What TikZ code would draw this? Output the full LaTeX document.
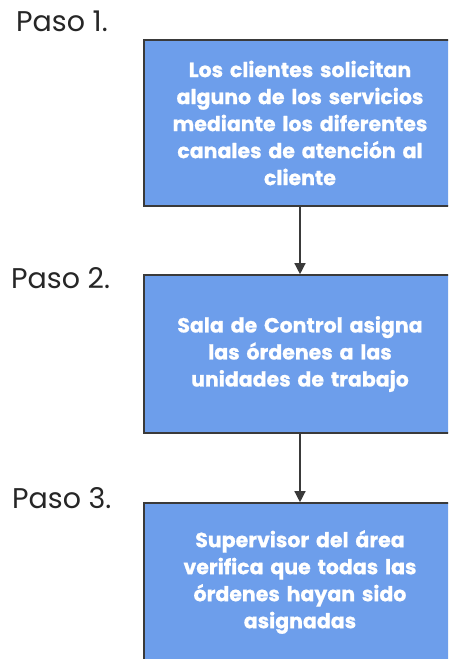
\documentclass[tikz,border=0pt]{standalone}
\usepackage{fontspec}
\setmainfont{Poppins}
\newfontfamily\boxfont[BoldFeatures={FakeBold=0.8}]{Poppins}
\usetikzlibrary{arrows.meta}
\definecolor{boxblue}{HTML}{6D9EEB}
\definecolor{edge}{HTML}{3A3A3A}
\tikzset{
  stepbox/.style={draw=edge, line width=1.6pt, fill=boxblue, text=white,
    minimum width=312pt, text width=290pt, align=center, inner sep=0pt,
    font=\boxfont\fontsize{20.5}{27}\selectfont\bfseries},
  steplabel/.style={anchor=west, inner sep=0pt, text=black!85,
    font=\fontsize{28.5}{32}\selectfont},
  flow/.style={draw=edge, line width=1.3pt, -{Triangle[width=11pt,length=11pt]}}
}
\begin{document}
\begin{tikzpicture}[x=1pt,y=-1pt]
\useasboundingbox (0,0) rectangle (448,659);
\clip (0,0) rectangle (448,659);
\node[stepbox, minimum height=166pt] (b1) at (300,123)
  {Los clientes solicitan\\alguno de los servicios\\mediante los diferentes\\canales de atención al\\cliente\\[-3pt]};
\node[stepbox, minimum height=158pt] (b2) at (300,354)
  {Sala de Control asigna\\las órdenes a las\\unidades de trabajo};
\node[stepbox, minimum height=158pt] (b3) at (300,582)
  {Supervisor del área\\verifica que todas las\\órdenes hayan sido\\asignadas};
\node[steplabel] (p1) at (16,21) {Paso 1.};
\node[steplabel] (p2) at (11,278) {Paso 2.};
\node[steplabel] (p3) at (12,498) {Paso 3.};
\draw[flow] (b1.south) -- (b2.north);
\draw[flow] (b2.south) -- (b3.north);
\end{tikzpicture}
\end{document}
